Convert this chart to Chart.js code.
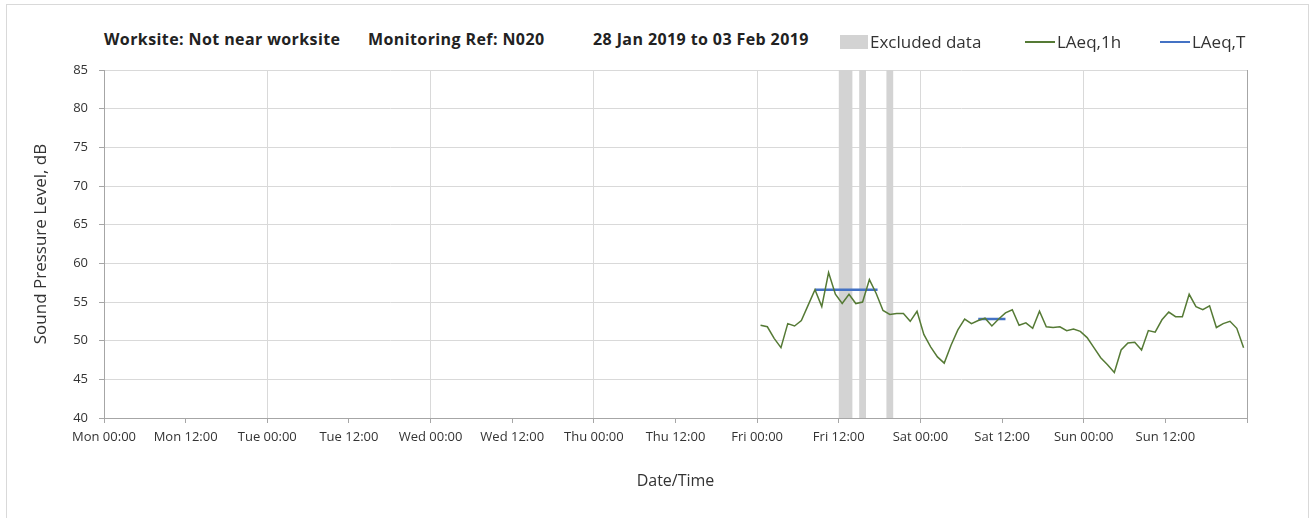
<!DOCTYPE html>
<html>
<head>
<meta charset="utf-8">
<script src="https://cdn.jsdelivr.net/npm/chart.js@4"></script>
<style>
  html, body { margin: 0; padding: 0; background: #fff; }
  body { width: 1311px; height: 518px; overflow: hidden; position: relative; font-family: "Open Sans", sans-serif; color: #222; }
  .frame { position: absolute; left: 6px; top: 4px; width: 1301px; height: 600px; border: 1px solid #d9d9d9; }
  canvas { position: absolute; left: 0; top: 0; }
  .title span { position: absolute; top: 29px; font-size: 16px; font-weight: 700; line-height: 20px; letter-spacing: 0.4px; white-space: nowrap; }
  .legend .item { position: absolute; top: 31px; display: flex; align-items: center; font-size: 17px; line-height: 22px; color: #333; white-space: nowrap; }
  .legend .swatch { width: 30px; margin-right: 2px; }
</style>
</head>
<body>
<div class="frame"></div>
<div class="title" id="title"></div>
<canvas id="chart" width="1311" height="518"></canvas>
<div class="legend" id="legend"></div>
<script>
const GREEN = "#557a35";
const BLUE = "#4472c4";
const BAND = "#d3d3d3";

const titleParts = ["Worksite: Not near worksite", "Monitoring Ref: N020", "28 Jan 2019 to 03 Feb 2019"];
const titleLeft = [104, 368, 593];
const legendLeft = [840, 1025, 1160];

// x axis is hours since Mon 00:00
const tickLabels = [
  "Mon 00:00", "Mon 12:00", "Tue 00:00", "Tue 12:00", "Wed 00:00", "Wed 12:00", "Thu 00:00",
  "Thu 12:00", "Fri 00:00", "Fri 12:00", "Sat 00:00", "Sat 12:00", "Sun 00:00", "Sun 12:00",
];

// hourly LAeq,1h from Fri 00:30 onwards
const firstHour = 96.5;
const laeq1h = [
  52.0, 51.8, 50.3, 49.1, 52.2, 51.9, 52.6, 54.6, 56.6, 54.4, 58.8, 56.0,
  54.8, 56.0, 54.8, 55.0, 57.9, 56.1, 53.9, 53.4, 53.5, 53.5, 52.5, 53.8,
  50.8, 49.2, 47.9, 47.1, 49.4, 51.4, 52.8, 52.2, 52.6, 52.9, 51.9, 52.8,
  53.6, 54.0, 52.0, 52.3, 51.6, 53.8, 51.8, 51.7, 51.8, 51.3, 51.5, 51.2,
  50.4, 49.1, 47.8, 46.9, 45.9, 48.8, 49.7, 49.8, 48.8, 51.3, 51.1, 52.7,
  53.7, 53.1, 53.1, 56.0, 54.4, 54.0, 54.5, 51.7, 52.2, 52.5, 51.6, 49.1,
];

// LAeq,T periods
const periodStart = [104.5, 128.5];
const periodEnd = [113.7, 132.5];
const periodValue = [56.6, 52.8];

// excluded data periods
const excludedStart = [108, 111, 115];
const excludedEnd = [110, 112, 116];

const greenPoints = laeq1h.map((v, i) => ({ x: firstHour + i, y: v }));
const bluePoints = [];
periodValue.forEach((v, i) => {
  if (i > 0) bluePoints.push({ x: (periodEnd[i - 1] + periodStart[i]) / 2, y: null });
  bluePoints.push({ x: periodStart[i], y: v }, { x: periodEnd[i], y: v });
});

Chart.defaults.font.family = "'Open Sans', sans-serif";
Chart.defaults.color = "#333";

const excludedBands = {
  id: "excludedBands",
  beforeDatasetsDraw(chart) {
    const { ctx, chartArea, scales } = chart;
    ctx.save();
    ctx.fillStyle = BAND;
    excludedStart.forEach((s, i) => {
      const x0 = scales.x.getPixelForValue(s);
      const x1 = scales.x.getPixelForValue(excludedEnd[i]);
      ctx.fillRect(x0, chartArea.top, x1 - x0, chartArea.bottom - chartArea.top);
    });
    ctx.restore();
  },
};

const chart = new Chart(document.getElementById("chart"), {
  type: "line",
  data: {
    datasets: [
      { label: "LAeq,1h", data: greenPoints, borderColor: GREEN, borderWidth: 1.5, pointRadius: 0, tension: 0 },
      { label: "LAeq,T", data: bluePoints, borderColor: BLUE, borderWidth: 2.5, pointRadius: 0, spanGaps: false },
    ],
  },
  options: {
    responsive: false,
    animation: false,
    layout: { padding: { left: 20, top: 70, right: 64, bottom: 17 } },
    plugins: { legend: { display: false }, tooltip: { enabled: false } },
    scales: {
      x: {
        type: "linear",
        min: 0,
        max: 168,
        afterFit: (s) => { s.height = 83; },
        afterBuildTicks: (s) => {
          s.ticks = tickLabels.map((_, i) => ({ value: i * 12 })).concat([{ value: 168 }]);
        },
        ticks: {
          autoSkip: false,
          maxRotation: 0,
          padding: 6,
          font: { size: 13 },
          callback: (v) => tickLabels[v / 12] || "",
        },
        grid: {
          color: (ctx) => (ctx.tick && ctx.tick.value === 168 ? "#a6a6a6" : ctx.tick && ctx.tick.value % 24 === 0 ? "#d9d9d9" : "transparent"),
          tickColor: "#a6a6a6",
          tickLength: 5,
        },
        border: { color: "#a6a6a6" },
        title: { display: true, text: "Date/Time", font: { size: 16 }, padding: { top: 0, bottom: 10 } },
      },
      y: {
        min: 40,
        max: 85,
        afterFit: (s) => { s.width = 84; },
        ticks: { stepSize: 5, padding: 11, font: { size: 13 } },
        grid: { color: "#d9d9d9", tickColor: "#a6a6a6", tickLength: 5 },
        border: { color: "#a6a6a6" },
        title: { display: true, text: "Sound Pressure Level, dB", font: { size: 17 }, padding: { top: 11, bottom: 0 } },
      },
    },
  },
  plugins: [excludedBands],
});

document.getElementById("title").innerHTML = titleParts
  .map((t, i) => `<span style="left:${titleLeft[i]}px">${t}</span>`)
  .join("");

const legendItems = [{ text: "Excluded data", box: BAND }].concat(
  chart.data.datasets.map((d) => ({ text: d.label, line: d.borderColor })),
);
document.getElementById("legend").innerHTML = legendItems
  .map((it, i) =>
    it.box
      ? `<div class="item" style="left:${legendLeft[i]}px"><span class="swatch" style="width:28px;height:14px;background:${it.box}"></span>${it.text}</div>`
      : `<div class="item" style="left:${legendLeft[i]}px"><span class="swatch" style="height:2px;background:${it.line}"></span>${it.text}</div>`,
  )
  .join("");
</script>
</body>
</html>
